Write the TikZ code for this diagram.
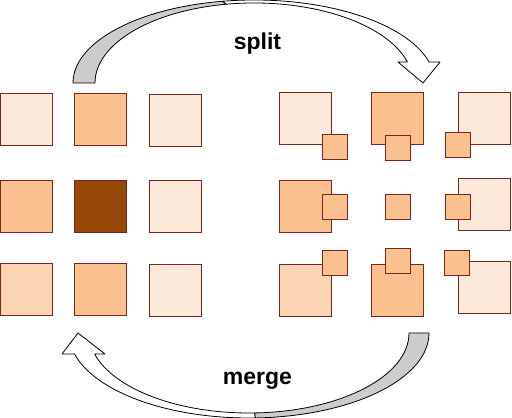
\documentclass[tikz,border=0pt]{standalone}
\usepackage{fontspec}
\setmainfont{Liberation Sans}
\definecolor{sqborder}{RGB}{120,38,30}
\definecolor{clight}{HTML}{FDE9D9}
\definecolor{cpale}{HTML}{FBD4B4}
\definecolor{cmed}{HTML}{FAC08F}
\definecolor{cdark}{HTML}{974806}
\definecolor{agray}{HTML}{CCCCCC}
\begin{document}
\begin{tikzpicture}[x=1pt,y=1pt,
  big/.style={draw=sqborder, line width=1pt, minimum size=52pt, inner sep=0pt, outer sep=0pt},
  small/.style={big, minimum size=25pt, fill=cmed},
  band/.style={draw=black, line width=0.8pt, line join=round},
  lbl/.style={font=\fontsize{23}{27}\selectfont\bfseries, anchor=base, inner sep=0pt}]
\fill[white] (0,0) rectangle (512,418);
\useasboundingbox (0,0) rectangle (512,418);

% left grid
\node[big, fill=clight] (L11) at (26.5,298) {};
\node[big, fill=cmed]   (L12) at (100,298) {};
\node[big, fill=clight] (L13) at (175,297.5) {};
\node[big, fill=cmed]   (L21) at (26.5,211.5) {};
\node[big, fill=cdark]  (L22) at (100,211.5) {};
\node[big, fill=clight] (L23) at (175,211.5) {};
\node[big, fill=cpale]  (L31) at (26.5,128.5) {};
\node[big, fill=cmed]   (L32) at (100,128.5) {};
\node[big, fill=clight] (L33) at (175,127.5) {};

% right grid, big squares
\node[big, fill=clight] (R11) at (305.5,299.5) {};
\node[big, fill=cmed]   (R12) at (397.5,299.5) {};
\node[big, fill=clight] (R13) at (484.5,299.5) {};
\node[big, fill=cmed]   (R21) at (305.5,211.5) {};
\node[big, fill=clight] (R23) at (484.5,213.5) {};
\node[big, fill=cpale]  (R31) at (305.5,127) {};
\node[big, fill=cmed]   (R32) at (397.5,127) {};
\node[big, fill=clight] (R33) at (484.5,130) {};
% right grid, small squares
\node[small] (S11) at (334.5,271) {};
\node[small] (S12) at (398,270) {};
\node[small] (S13) at (458,273) {};
\node[small] (S21) at (334.5,211) {};
\node[small] (S22) at (398,211) {};
\node[small] (S23) at (458,211) {};
\node[small] (S31) at (334.5,155) {};
\node[small] (S32) at (398,156.5) {};
\node[small] (S33) at (456.5,155) {};

% top arrow (split)
\coordinate (tc) at (254,335);
\filldraw[band, fill=agray] ([shift={(tc)}]180:181 and 83)
  arc[start angle=180, end angle=100, x radius=181, y radius=83]
  -- ([shift={(tc)}]100:159 and 80)
  arc[start angle=100, end angle=180, x radius=159, y radius=80] -- cycle;
\filldraw[band, fill=white] ([shift={(tc)}]100:181 and 83)
  arc[start angle=100, end angle=14.66, x radius=181, y radius=83]
  -- (440,356) -- (423,335) -- (398,356)
  -- ([shift={(tc)}]15.22:159 and 80)
  arc[start angle=15.22, end angle=100, x radius=159, y radius=80] -- cycle;

% bottom arrow (merge)
\coordinate (bc) at (249,85);
\filldraw[band, fill=agray] ([shift={(bc)}]0:180 and 85)
  arc[start angle=0, end angle=-88, x radius=180, y radius=85]
  -- ([shift={(bc)}]-88:160 and 80)
  arc[start angle=-88, end angle=0, x radius=160, y radius=80] -- cycle;
\filldraw[band, fill=white] ([shift={(bc)}]-88:180 and 85)
  arc[start angle=-88, end angle=-165.7, x radius=180, y radius=85]
  -- (62,64) -- (78,85) -- (105,64)
  -- ([shift={(bc)}]-164.8:160 and 80)
  arc[start angle=-164.8, end angle=-88, x radius=160, y radius=80] -- cycle;

\node[lbl] (split) at (257.5,368) {split};
\node[lbl] (merge) at (257.5,33) {merge};
\end{tikzpicture}
\end{document}
